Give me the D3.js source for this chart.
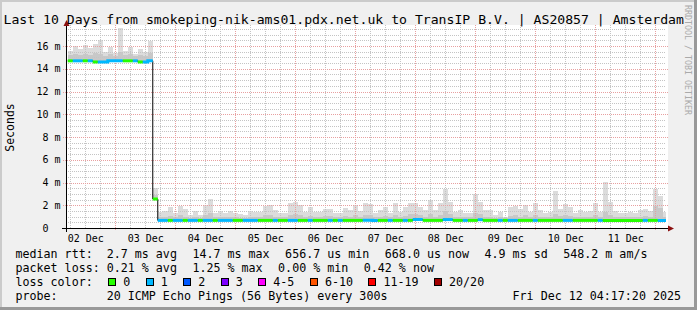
<!DOCTYPE html>
<html>
<head>
<meta charset="utf-8">
<script src="https://d3js.org/d3.v7.min.js"></script>
<style>
body { margin: 0; background: #f0f0f0; }
text { font-family: "DejaVu Sans Mono", monospace; white-space: pre; }
</style>
</head>
<body>
<svg id="chart" width="697" height="310"></svg>
<script>
// 2 hour buckets, first one starts Dec 2 05:00 UTC
var median = [
	14.7,14.7,14.7,14.7,14.7,14.6,14.6,14.6,14.7,14.7,
	14.7,14.7,14.7,14.7,14.6,14.6,14.7,2.55,0.67,0.67,
	0.67,0.67,0.67,0.67,0.67,0.67,0.67,0.67,0.67,0.67,
	0.67,0.67,0.67,0.67,0.67,0.67,0.67,0.67,0.67,0.67,
	0.67,0.67,0.67,0.67,0.67,0.67,0.67,0.67,0.67,0.67,
	0.67,0.67,0.67,0.67,0.67,0.67,0.67,0.67,0.67,0.68,
	0.68,0.67,0.67,0.67,0.67,0.67,0.67,0.67,0.67,0.75,
	0.75,0.67,0.67,0.67,0.67,0.74,0.74,0.67,0.67,0.67,
	0.67,0.67,0.73,0.67,0.67,0.67,0.67,0.67,0.67,0.67,
	0.67,0.67,0.67,0.67,0.67,0.67,0.67,0.67,0.67,0.67,
	0.67,0.67,0.67,0.67,0.67,0.67,0.67,0.67,0.67,0.67,
	0.67,0.67,0.67,0.67,0.67,0.67,0.67,0.67,0.67,0.668]

var smokeMax = [
	15.6,16.0,15.7,16.1,15.8,16.2,16.5,15.5,15.9,15.4,
	17.6,15.6,15.9,15.3,15.7,15.5,16.4,3.5,1.37,1.49,
	1.88,1.29,1.95,1.64,1.14,1.49,1.14,2.02,2.55,1.29,
	1.49,1.29,1.52,1.35,1.2,1.14,1.52,1.44,1.4,1.9,
	2.0,1.58,1.29,1.29,2.17,2.31,2.02,1.44,1.88,1.44,
	1.44,1.64,1.64,1.29,1.29,1.73,1.58,2.02,1.49,2.17,
	2.1,1.29,1.58,1.88,1.29,2.24,1.38,1.88,2.24,2.17,
	1.88,1.58,2.46,1.58,2.17,3.43,2.31,1.44,1.58,1.29,
	1.35,2.96,2.31,1.58,1.58,1.14,1.44,1.0,1.88,1.95,
	1.64,2.02,1.44,2.17,1.58,1.29,1.44,3.25,1.64,2.1,
	1.88,1.29,1.58,1.44,1.49,2.17,1.44,4.01,2.31,1.49,
	1.29,1.35,1.44,1.29,1.58,1.64,1.49,3.4,2.82,1.44]

var smokeHi = [
	15.2,15.3,15.2,15.3,15.2,15.4,15.3,15.1,15.3,15.1,
	15.5,15.2,15.3,15.1,15.2,15.1,15.4,2.9,0.95,1.0,
	1.05,0.95,1.1,1.0,0.9,1.0,0.9,1.1,1.3,0.95,
	1.0,0.95,1.0,0.95,0.9,0.9,1.0,1.0,0.95,1.1,
	1.1,1.0,0.95,0.95,1.15,1.2,1.1,1.0,1.05,1.0,
	1.0,1.05,1.05,0.95,0.95,1.05,1.0,1.1,1.0,1.15,
	1.1,0.95,1.0,1.05,0.95,1.15,1.0,1.05,1.2,1.2,
	1.1,1.0,1.25,1.0,1.1,1.5,1.2,1.0,1.0,0.95,
	0.95,1.3,1.2,1.0,1.0,0.9,1.0,0.85,1.05,1.1,
	1.0,1.1,1.0,1.15,1.0,0.95,1.0,1.2,1.05,1.1,
	1.05,0.95,1.0,1.0,1.0,1.1,1.0,1.4,1.15,1.0,
	0.95,0.95,1.0,0.95,1.0,1.05,1.0,1.9,1.8,1.0]

// packet loss in percent per bucket
var lossPct = [
	0,0.42,0.42,0,0.42,0,0.83,0.42,0.42,0.83,
	1.25,0,0,0.42,0,0.42,0.42,0,0.42,0.42,
	0,0.42,0.83,0,0.42,0.42,0,0.42,0.83,0,
	0.42,0.42,0.42,0,0,0.42,0.42,0.42,0,0,
	0,0.42,0,0,0.42,0.83,0,0,0.42,0,
	0,0,0.42,0,0.42,0,0,0,0,0.42,
	0.42,0.42,0,0,0.42,0,0,0.42,0,0.42,
	0.42,0,0,0,0,0.83,0.42,0,0,0.42,
	0,0,0.42,0,0,0,0.42,0,0.42,0.42,
	0,0,0,0.42,0,0,0,0,0,0.42,
	0.42,0,0,0,0,0,0.42,0,0,0,
	0,0,0,0,0,0.42,0,0,0.42,0.42]

var lossLabels = ["0","1","2","3","4-5","6-10","11-19","20/20"]
var lossLimits = [0,1,2,3,5,10,19,20]
var lossColors = ["#26ff00","#00b8ff","#0059ff","#7e00ff","#ff00ff","#ff5500","#ff0000","#a10000"]

var yTicks = [0,2,4,6,8,10,12,14,16]

var title = "Last 10 Days from smokeping-nik-ams01.pdx.net.uk to TransIP B.V. | AS20857 | Amsterdam"
var rttStats = ["median rtt:  2.7 ms avg","14.7 ms max","656.7 us min","668.0 us now","4.9 ms sd","548.2 m am/s"]
var lossStats = ["packet loss: 0.21 % avg","1.25 % max","0.00 % min","0.42 % now"]
var probe = "probe:       20 ICMP Echo Pings (56 Bytes) every 300s"
var stamp = "Fri Dec 12 04:17:20 2025"

var tStart = new Date(Date.UTC(2025,11,2,4,17,20)),
	tEnd = new Date(Date.UTC(2025,11,12,4,17,20)),
	t0 = Date.UTC(2025,11,2,5,0,0),
	step = 2*3600*1000

var W = 697, H = 310
var x = d3.scaleUtc().domain([tStart, tEnd]).range([66, 666])
var y = d3.scaleLinear().domain([0, 17.85]).range([228, 25])

function lossClass(p) {
	var pings = p/100*20
	for (var i = 0; i < lossLimits.length; i++) if (pings <= lossLimits[i]) return i
	return lossLimits.length-1
}

var data = median.map(function(m, i) {
	return {t: new Date(t0+i*step), t1: new Date(t0+(i+1)*step), med: m,
		max: smokeMax[i], hi: smokeHi[i], c: lossClass(lossPct[i])}
})

var svg = d3.select("#chart")

// frame
svg.append("rect").attr("width", W).attr("height", H).attr("fill", "#f0f0f0")
svg.append("rect").attr("width", W).attr("height", 2).attr("fill", "#cbcbcb")
svg.append("rect").attr("width", 2).attr("height", H).attr("fill", "#cbcbcb")
svg.append("rect").attr("x", W-3).attr("width", 3).attr("height", H).attr("fill", "#999999")
svg.append("rect").attr("y", H-3).attr("width", W).attr("height", 3).attr("fill", "#999999")

svg.append("rect").attr("x", 66).attr("y", 25).attr("width", 602).attr("height", 203).attr("fill", "#ffffff")

svg.append("clipPath").attr("id", "clip").append("rect")
	.attr("x", 66).attr("y", 20).attr("width", 600).attr("height", 210)

var plot = svg.append("g").attr("clip-path", "url(#clip)").attr("shape-rendering", "crispEdges")

// smoke
plot.selectAll("rect.smoke").data(data).enter().append("rect")
	.attr("class", "smoke")
	.attr("x", function(d) { return x(d.t) })
	.attr("width", function(d) { return x(d.t1) - x(d.t) })
	.attr("y", function(d) { return y(d.max) })
	.attr("height", function(d) { return y(d.med) - y(d.max) })
	.attr("fill", "#dcdcdc")
plot.selectAll("rect.inner").data(data).enter().append("rect")
	.attr("class", "inner")
	.attr("x", function(d) { return x(d.t) })
	.attr("width", function(d) { return x(d.t1) - x(d.t) })
	.attr("y", function(d) { return y(d.hi) })
	.attr("height", function(d) { return y(d.med) - y(d.hi) })
	.attr("fill", "#c8c8c8")

// grid
var grid = svg.append("g").attr("shape-rendering", "crispEdges")
var px = function(v) { return Math.round(v) + 0.5 }
var minorY = d3.range(0.5, 17.85, 0.5).filter(function(v) { return v % 2 != 0 })
grid.selectAll("line.my").data(minorY).enter().append("line")
	.attr("x1", 66).attr("x2", 666)
	.attr("y1", function(d) { return px(y(d)) }).attr("y2", function(d) { return px(y(d)) })
	.attr("stroke", "#c4c4c4").attr("stroke-dasharray", "1,1")
var minorX = x.ticks(d3.utcHour.every(6)).filter(function(d) { return d.getUTCHours() != 0 })
grid.selectAll("line.mx").data(minorX).enter().append("line")
	.attr("x1", function(d) { return px(x(d)) }).attr("x2", function(d) { return px(x(d)) })
	.attr("y1", 25).attr("y2", 228)
	.attr("stroke", "#c4c4c4").attr("stroke-dasharray", "1,1")
grid.selectAll("line.My").data(yTicks.slice(1)).enter().append("line")
	.attr("x1", 63).attr("x2", 669)
	.attr("y1", function(d) { return px(y(d)) }).attr("y2", function(d) { return px(y(d)) })
	.attr("stroke", "#e8a0a0").attr("stroke-dasharray", "1,1")
var majorX = x.ticks(d3.utcDay.every(1))
grid.selectAll("line.Mx").data(majorX).enter().append("line")
	.attr("x1", function(d) { return px(x(d)) }).attr("x2", function(d) { return px(x(d)) })
	.attr("y1", 25).attr("y2", 231)
	.attr("stroke", "#e8a0a0").attr("stroke-dasharray", "1,1")

// median: thin black step, then loss coloured runs
var line = d3.line().x(function(p) { return p[0] }).y(function(p) { return p[1] })
function stepPts(arr) {
	var pts = []
	arr.forEach(function(d) { pts.push([x(d.t), y(d.med)], [x(d.t1), y(d.med)]) })
	return pts
}
var medG = svg.append("g").attr("clip-path", "url(#clip)")
medG.append("path").attr("d", line(stepPts(data)))
	.attr("fill", "none").attr("stroke", "#000").attr("stroke-width", 1)

var runs = []
data.forEach(function(d) {
	var last = runs[runs.length-1]
	if (last && last.c == d.c) last.pts.push(d)
	else runs.push({c: d.c, pts: [d]})
})
medG.selectAll("path.run").data(runs).enter().append("path")
	.attr("class", "run")
	.attr("d", function(r) { return line(stepPts(r.pts)) })
	.attr("fill", "none").attr("stroke-width", 3)
	.attr("stroke", function(r) { return lossColors[r.c] })

// axes
var ax = svg.append("g").attr("shape-rendering", "crispEdges")
ax.append("line").attr("x1", 62).attr("x2", 669).attr("y1", 228.5).attr("y2", 228.5).attr("stroke", "#000")
ax.append("line").attr("x1", 66.5).attr("x2", 66.5).attr("y1", 232).attr("y2", 24).attr("stroke", "#000")
svg.append("path").attr("d", "M668,225.5L674,228.5L668,231.5Z").attr("fill", "#8b1010")
svg.append("path").attr("d", "M63.5,26L66.5,20L69.5,26Z").attr("fill", "#8b1010")

var yAxis = d3.axisLeft(y).tickValues(yTicks).tickSize(0).tickPadding(6)
	.tickFormat(function(d) { return d ? d + " m" : "0\u00a0\u00a0" })
var yg = svg.append("g").attr("transform", "translate(66.5,0)").call(yAxis)
yg.select(".domain").remove()
yg.selectAll("text").attr("font-family", "DejaVu Sans Mono").attr("font-size", 10).attr("fill", "#000")

var noon = x.ticks(d3.utcDay.every(1)).map(function(d) { return new Date(+d - 12*3600*1000) })
	.filter(function(d) { return d > tStart })
var xAxis = d3.axisBottom(x).tickValues(noon).tickSize(0).tickPadding(6).tickFormat(d3.utcFormat("%d %b"))
var xg = svg.append("g").attr("transform", "translate(0,228.5)").call(xAxis)
xg.select(".domain").remove()
xg.selectAll("text").attr("font-family", "DejaVu Sans Mono").attr("font-size", 10).attr("fill", "#000")

// texts
svg.append("text").attr("x", 3.5).attr("y", 23.5).attr("font-size", 13.15).text(title)
svg.append("text").attr("transform", "translate(14.3,127.5) rotate(-90)")
	.attr("text-anchor", "middle").attr("font-family", "DejaVu Sans").attr("font-size", 11.5)
	.text("Seconds")
svg.append("text").attr("transform", "translate(685,5) rotate(90)")
	.attr("font-size", 8.3).attr("fill", "#aaaaaa").text("RRDTOOL / TOBI OETIKER")

var fs = 11.67, gap = 15.5
function legendRow(items, yy) {
	var xx = 15.5
	items.forEach(function(s) {
		var t = svg.append("text").attr("x", xx).attr("y", yy).attr("font-size", fs).text(s)
		xx += t.node().getComputedTextLength() + gap
	})
}
legendRow(rttStats, 258)
legendRow(lossStats, 272)

var lc = svg.append("text").attr("x", 15.5).attr("y", 286).attr("font-size", fs).text("loss color:")
var bx = 15.5 + lc.node().getComputedTextLength() + gap
lossLabels.forEach(function(l, i) {
	svg.append("rect").attr("x", bx + 0.5).attr("y", 278.5).attr("width", 7).attr("height", 7)
		.attr("fill", lossColors[i]).attr("stroke", "#000").attr("shape-rendering", "crispEdges")
	var t = svg.append("text").attr("x", bx + 15).attr("y", 286).attr("font-size", fs).text(l)
	bx += 15 + t.node().getComputedTextLength() + gap
})

svg.append("text").attr("x", 15.5).attr("y", 300).attr("font-size", fs).text(probe)
svg.append("text").attr("x", 681).attr("y", 300).attr("font-size", fs).attr("text-anchor", "end").text(stamp)
</script>
</body>
</html>
